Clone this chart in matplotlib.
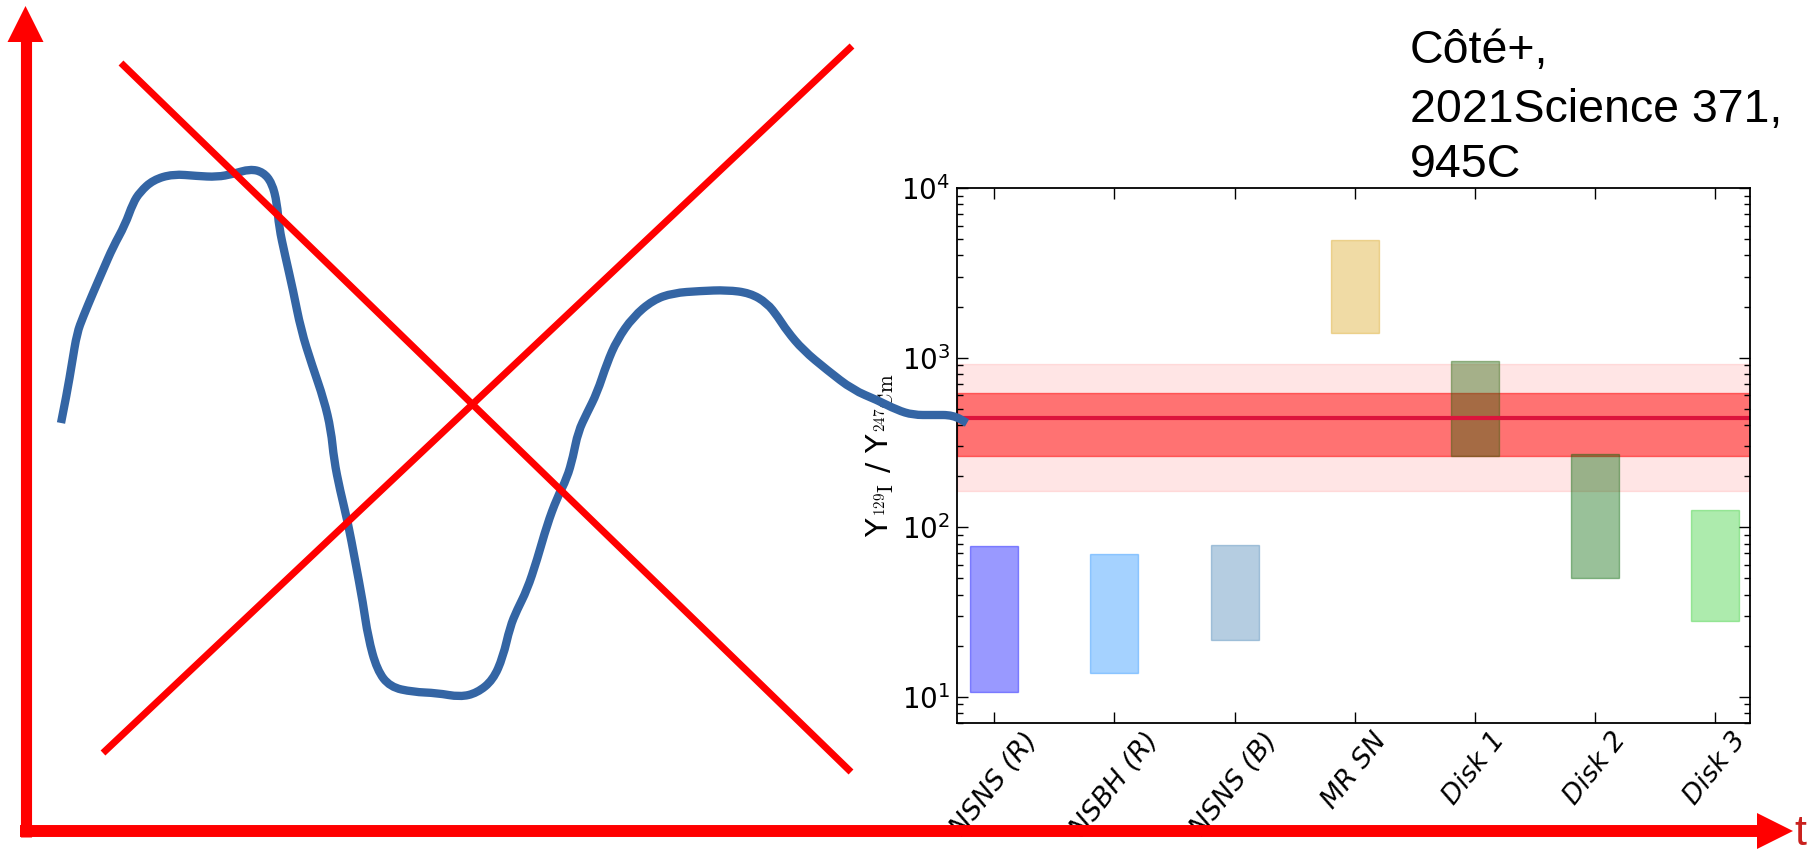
import matplotlib
matplotlib.use("Agg")
import matplotlib.pyplot as plt
from matplotlib.path import Path
from matplotlib.patches import PathPatch
from matplotlib.transforms import Bbox

plt.rcParams['mathtext.fontset'] = 'cm'

# ---- ratio ranges per production site ----
sites = ['NSNS (R)', 'NSBH (R)', 'NSNS (B)', 'MR SN', 'Disk 1', 'Disk 2', 'Disk 3']
ratio_low = [10.7, 13.8, 21.5, 1400, 263, 50, 28]
ratio_high = [77, 69, 78, 4950, 950, 270, 127]
site_colors = ['blue', 'dodgerblue', 'steelblue', 'goldenrod', '#1e6100', 'darkgreen', 'limegreen']

# measured ratio and its uncertainty bands
measured = 438
band_1sigma = (262, 614)
band_2sigma = (163, 922)

# ---- sketch (slide) in pixel-like coordinates ----
sketch_x = [61, 67, 72, 77, 83, 93, 103, 113, 125, 133, 140, 153, 173, 197, 217, 233,
            250, 263, 272, 277, 279, 285, 293, 301, 312, 324, 331, 334, 340, 348, 355,
            363, 368, 377, 390, 413, 437, 460, 477, 493, 503, 510, 517, 527, 537, 547,
            557, 567, 573, 578, 587, 597, 607, 617, 633, 653, 673, 700, 727, 750, 767,
            778, 787, 803, 827, 853, 877, 897, 913, 933, 953, 967]
sketch_y = [423, 393, 363, 333, 317, 293, 270, 247, 225, 203, 192, 180, 174, 176, 177, 174,
            169, 172, 183, 203, 227, 255, 290, 330, 365, 400, 430, 460, 490, 523, 560,
            603, 637, 670, 687, 692, 693, 697, 693, 680, 657, 627, 610, 590, 560, 525,
            498, 478, 457, 432, 413, 393, 363, 340, 317, 300, 293, 291, 290, 293, 303,
            317, 331, 350, 370, 390, 400, 410, 415, 415, 415, 423]

cross_a = ([121, 851], [63, 772])
cross_b = ([103, 852], [753, 46])

W, H = 1810, 851
fig = plt.figure(figsize=(W / 100, H / 100), dpi=100)
fig.patch.set_facecolor('white')

# ---- inset chart ----
ax = fig.add_axes([957 / W, 1 - 723 / H, 793 / W, 535 / H])
ax.set_yscale('log')
ax.set_ylim(7.0, 1e4)
ax.set_xlim(-0.31, 6.29)

ax.axhspan(*band_2sigma, color='red', alpha=0.1, lw=1)
ax.axhspan(*band_1sigma, color='red', alpha=0.5, lw=1)
ax.axhline(measured, color='crimson', lw=3)

for i, (lo, hi, c) in enumerate(zip(ratio_low, ratio_high, site_colors)):
    ax.bar(i, hi - lo, bottom=lo, width=0.4, color=c, alpha=0.4,
           edgecolor=c, linewidth=1)

ax.set_xticks(range(len(sites)))
ax.set_xticklabels(sites, rotation=52, fontsize=19.5, style='italic')
ax.tick_params(axis='y', labelsize=20, pad=5)
ax.tick_params(which='both', direction='in', top=True, right=True, colors='black')
ax.tick_params(which='major', length=8, width=1)
ax.tick_params(which='minor', length=4, width=1)
for s in ax.spines.values():
    s.set_linewidth(1.3)

ax.set_ylabel(r'Y$_{^{129}\mathrm{I}}$ / Y$_{^{247}\mathrm{Cm}}$', fontsize=22)
ax.yaxis.set_label_coords(-0.078, 0.5)

clip = Bbox.from_extents(0, H - 837, W, H)
for lab in ax.get_xticklabels():
    lab.set_clip_box(clip)
    lab.set_clip_on(True)

# ---- sketch overlay ----
ov = fig.add_axes([0, 0, 1, 1], zorder=5)
ov.set_xlim(0, W)
ov.set_ylim(H, 0)
ov.axis('off')
ov.patch.set_alpha(0)

# hand-drawn wave, smoothed with quadratic segments through midpoints
pts = list(zip(sketch_x, sketch_y))
verts = [pts[0]]
codes = [Path.MOVETO]
for k in range(1, len(pts) - 1):
    mid = ((pts[k][0] + pts[k + 1][0]) / 2, (pts[k][1] + pts[k + 1][1]) / 2)
    verts += [pts[k], mid]
    codes += [Path.CURVE3, Path.CURVE3]
verts.append(pts[-1])
codes.append(Path.LINETO)
ov.add_patch(PathPatch(Path(verts, codes), fill=False, edgecolor='#3465a4',
                       lw=6.0, capstyle='butt', joinstyle='round'))

# crossed-out lines
ov.plot(*cross_a, color='red', lw=5.0, solid_capstyle='butt')
ov.plot(*cross_b, color='red', lw=5.0, solid_capstyle='butt')

# axis arrows
ov.plot([25.5, 25.5], [40, 837], color='red', lw=8.0, solid_capstyle='butt')
ov.plot([20, 1758], [831, 831], color='red', lw=8.6, solid_capstyle='butt')
ov.fill([7.5, 43.5, 25.5], [42, 42, 6], color='red', lw=0)
ov.fill([1757, 1757, 1793], [813, 849, 831], color='red', lw=0)
ov.text(1794, 845, 't', fontsize=31, color='#c9211e', family='Liberation Sans',
        va='baseline', ha='left')

# reference note
note_lines = ['Côté+,', '2021Science 371,', '945C']
for line, yb in zip(note_lines, [63, 122, 177]):
    ov.text(1410, yb, line, fontsize=33.5, family='Liberation Sans',
            va='baseline', ha='left', color='black')

fig.savefig('out.png', dpi=100)
